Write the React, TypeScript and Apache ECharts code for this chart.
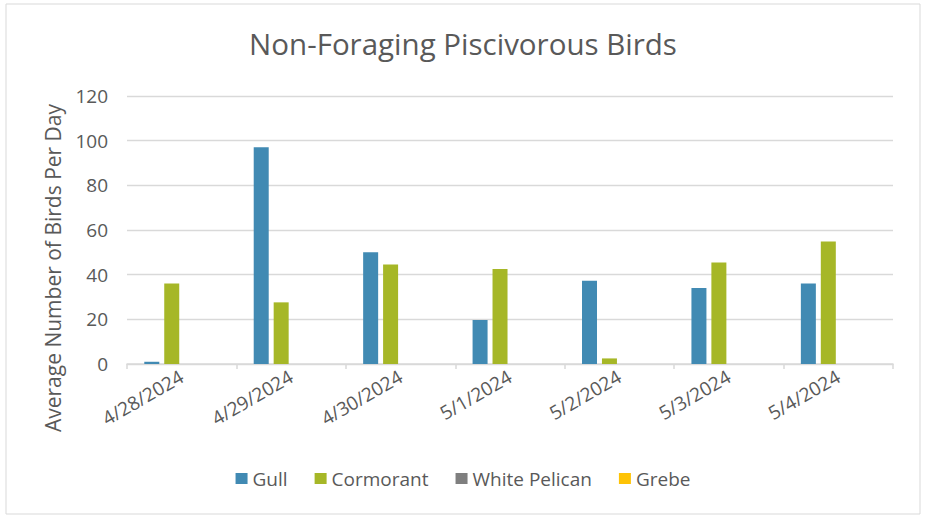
import React, { useEffect, useRef } from "react";
import * as echarts from "echarts";

const categories = ["4/28/2024", "4/29/2024", "4/30/2024", "5/1/2024", "5/2/2024", "5/3/2024", "5/4/2024"];
const gull = [1, 97, 50, 19.7, 37.3, 34, 36.1];
const cormorant = [36.1, 27.6, 44.6, 42.5, 2.5, 45.4, 54.8];
const whitePelican = [0, 0, 0, 0, 0, 0, 0];
const grebe = [0, 0, 0, 0, 0, 0, 0];
const yTicks = { min: 0, max: 120, interval: 20 };

const FONT = "'Open Sans', sans-serif";
const TXT = "#595959";

export default function App() {
  const ref = useRef<HTMLDivElement>(null);
  useEffect(() => {
    const chart = echarts.init(ref.current!, null, { renderer: "svg" });
    const bar = (name: string, data: number[], color: string) => ({
      name,
      type: "bar",
      data,
      barWidth: 15,
      barGap: "33%",
      itemStyle: { color },
    });
    chart.setOption({
      animation: false,
      textStyle: { fontFamily: FONT },
      title: {
        text: "Non-Foraging Piscivorous Birds",
        left: "center",
        top: 23,
        textStyle: { fontFamily: FONT, fontSize: 29.5, fontWeight: "normal", color: TXT },
      },
      legend: {
        bottom: 26,
        left: "center",
        itemWidth: 12,
        itemHeight: 11,
        itemGap: 27,
        icon: "rect",
        textStyle: { fontFamily: FONT, fontSize: 19, color: TXT },
        data: ["Gull", "Cormorant", "White Pelican", "Grebe"],
      },
      grid: { left: 127, right: 33, top: 96, bottom: 155, containLabel: false },
      xAxis: {
        type: "category",
        data: categories,
        axisLine: { lineStyle: { color: "#d9d9d9", width: 1.5 } },
        axisTick: { show: true, length: 5, lineStyle: { color: "#d9d9d9", width: 1.5 } },
        axisLabel: { rotate: 30, margin: 11, fontFamily: FONT, fontSize: 19, color: TXT },
      },
      yAxis: {
        type: "value",
        min: yTicks.min,
        max: yTicks.max,
        interval: yTicks.interval,
        axisLine: { show: false },
        axisTick: { show: false },
        splitLine: { lineStyle: { color: "#d9d9d9", width: 1.3 } },
        axisLabel: { margin: 19, fontFamily: FONT, fontSize: 19, color: TXT },
      },
      graphic: [
        {
          type: "rect",
          shape: { x: 6, y: 4, width: 914, height: 510 },
          style: { fill: "none", stroke: "#d9d9d9", lineWidth: 1 },
          silent: true,
        },
        {
          type: "text",
          x: 53,
          y: 268,
          rotation: Math.PI / 2,
          style: {
            text: "Average Number of Birds Per Day",
            fontFamily: FONT,
            fontSize: 21,
            fill: TXT,
            align: "center",
            verticalAlign: "middle",
          },
        },
      ],
      series: [
        bar("Gull", gull, "#418AB3"),
        bar("Cormorant", cormorant, "#A6B727"),
        bar("White Pelican", whitePelican, "#7F7F7F"),
        bar("Grebe", grebe, "#FEC306"),
      ],
    });
    return () => chart.dispose();
  }, []);
  return (
    <div
      ref={ref}
      style={{ position: "fixed", left: 0, top: 0, width: 926, height: 519, background: "#fff" }}
    />
  );
}
